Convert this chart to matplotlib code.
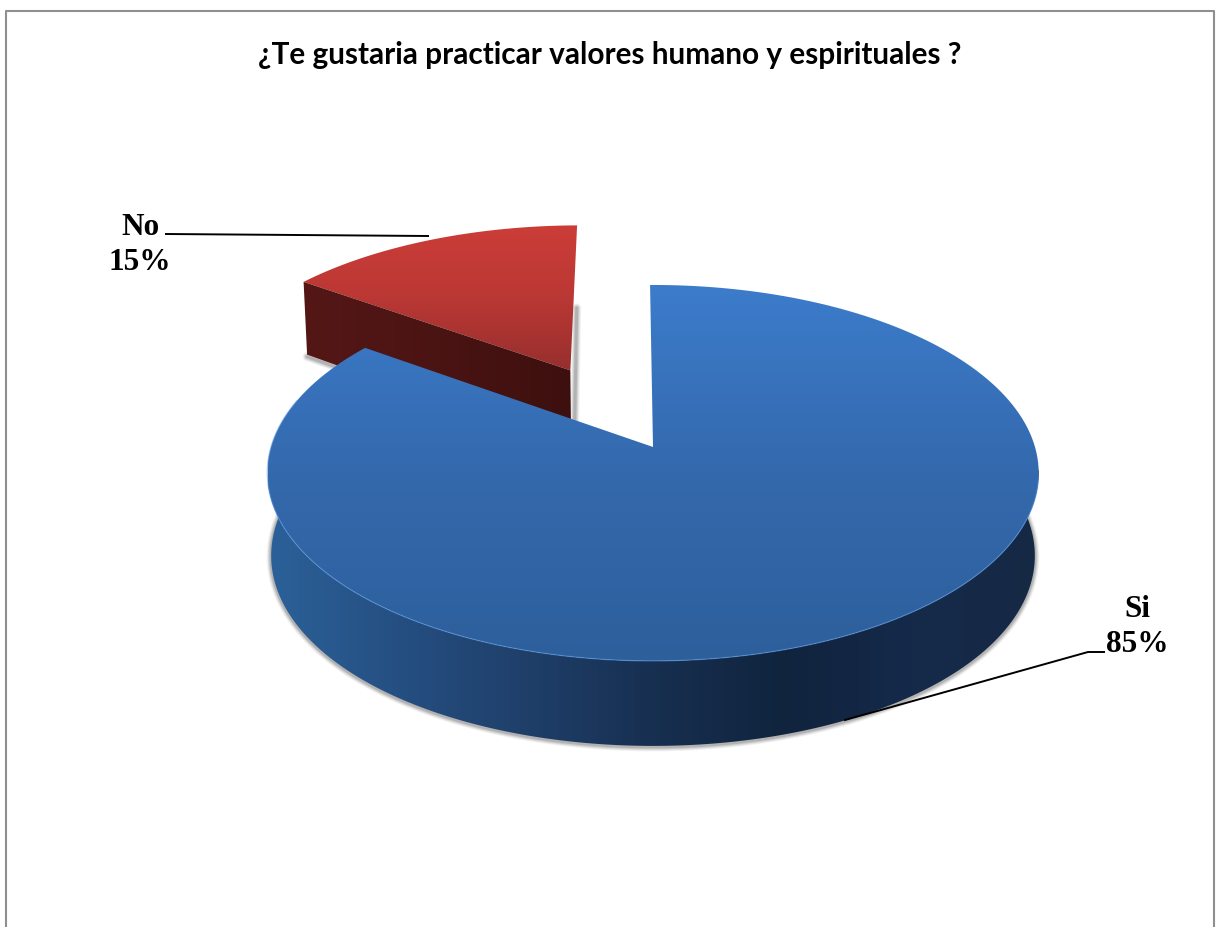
import numpy as np
import matplotlib
matplotlib.use('Agg')
from matplotlib import pyplot as plt
from matplotlib.colors import LinearSegmentedColormap
from matplotlib.patches import Polygon

title = '¿Te gustaria practicar valores humano y espirituales ?'
categories = ['Si', 'No']
values = [85, 15]
explode = [0.0, 0.497]
start_angle = -0.5

# projection of the pie plane onto the page, in pixels
cx, cy = 653.0, 447.0
rx, ry = 382.0, 184.4
persp = 0.138


def project(u, v, bottom=False):
    w = 1 + persp * v
    x = cx + rx * u / w
    y = cy - ry * v / w
    if bottom:
        x = cx + (x - cx) * 0.99
        y = y + 82 - 6 * v - 3 * v ** 2
    return x, y


def slice_points(start, end, offset=0.0, bottom=False):
    # angles are clockwise from the back of the pie, in degrees
    mid = np.radians((start + end) / 2)
    du, dv = offset * np.sin(mid), offset * np.cos(mid)
    t = np.radians(np.linspace(start, end, 200))
    x, y = project(np.sin(t) + du, np.cos(t) + dv, bottom)
    vx, vy = project(du, dv, bottom)
    return x, y, vx, vy


def gradient(ax, path_xy, extent, colors, horizontal=False, zorder=2):
    cmap = LinearSegmentedColormap.from_list('g', colors)
    ramp = np.linspace(0, 1, 256)
    ramp = ramp[None, :] if horizontal else ramp[:, None]
    img = ax.imshow(ramp, cmap=cmap, extent=extent, aspect='auto', origin='upper', zorder=zorder)
    clip = Polygon(path_xy, closed=True, transform=ax.transData, fc='none', ec='none')
    ax.add_patch(clip)
    img.set_clip_path(clip)


def shadow(ax, x, y, zorder):
    # soft grey edge, stacked strokes
    for lw, al in [(9, 0.05), (7, 0.07), (5, 0.09), (3, 0.12)]:
        ax.plot(x, y, color='black', lw=lw * 0.72, alpha=al, zorder=zorder, solid_capstyle='round')


fig = plt.figure(figsize=(12.16, 9.27), dpi=100)
ax = fig.add_axes([0, 0, 1, 1])

# chart frame, cut by the bottom of the page
ax.plot([5.5, 5.5, 1214, 1214], [927, 10.5, 10.5, 927], color='#8f8f8f', lw=1.5, zorder=1)

angles = np.cumsum([0] + values) / sum(values) * 360 + start_angle

# red slice
sx, sy, svx, svy = slice_points(angles[1], angles[2], explode[1])
bx, by, bvx, bvy = slice_points(angles[1], angles[2], explode[1], bottom=True)
red_top = np.column_stack([np.r_[svx, sx], np.r_[svy, sy]])
red_side = np.array([[svx, svy], [sx[0], sy[0]], [bx[0], by[0]], [bvx, bvy]])
shadow(ax, [bx[0], bvx], [by[0] + 2, bvy + 2], 2)
shadow(ax, [bvx + 3, (sx[-1] + svx) / 2 + 3], [bvy, (sy[-1] + svy) / 2 + 10], 2)
gradient(ax, red_top, (300, 585, 372, 220), ['#cd3d38', '#bb3835', '#962f2d'], zorder=3)
gradient(ax, red_side, (300, 580, 430, 270), ['#541716', '#4a1413', '#3c0f0e'], horizontal=True, zorder=3)

# blue slice, wall first
tx, ty, tvx, tvy = slice_points(angles[0], angles[1])
fa = np.radians(np.linspace(72, 288, 300))
wx, wy = project(np.sin(fa), np.cos(fa))
wbx, wby = project(np.sin(fa), np.cos(fa), bottom=True)
wall = np.vstack([np.column_stack([wx, wy]), np.column_stack([wbx, wby])[::-1]])
blue_top = np.column_stack([np.r_[tvx, tx], np.r_[tvy, ty]])
sa = np.radians(np.linspace(84, 277, 300))
shx, shy = project(np.sin(sa), np.cos(sa), bottom=True)
shadow(ax, shx, shy + 1, 4)
gradient(ax, wall, (268, 1042, 760, 470),
         ['#2b6199', '#254f82', '#1f3f69', '#172f50', '#10243e', '#15294a', '#162a45'],
         horizontal=True, zorder=5)
gradient(ax, blue_top, (268, 1042, 662, 284), ['#3c7ccb', '#3469ad', '#2d5f9b'], zorder=6)

# light rim along the front of the top
ra = np.radians(np.linspace(100, 285, 300))
rimx, rimy = project(np.sin(ra), np.cos(ra))
ax.plot(rimx, rimy, color='#5a9ae6', lw=0.9, alpha=0.55, zorder=7)

# leader lines and labels
ax.plot([166, 428], [234, 236], color='black', lw=1.4, zorder=8)
ax.plot([1104, 1088, 845], [652, 652, 720], color='black', lw=1.4, zorder=8)
label_font = dict(family='Liberation Serif', weight='bold', size=22.5, color='black',
                  ha='center', va='center', linespacing=1.25, zorder=9)
ax.text(1137, 627, f'{categories[0]}\n{values[0]}%', **label_font)
ax.text(140, 245, f'{categories[1]}\n{values[1]}%', **label_font)

ax.text(610, 55, title, family='Lato', weight='bold', size=21.4, ha='center', va='center', color='black')

ax.set_xlim(0, 1216)
ax.set_ylim(927, 0)
ax.axis('off')
fig.savefig('out.png', dpi=100, facecolor='white')
